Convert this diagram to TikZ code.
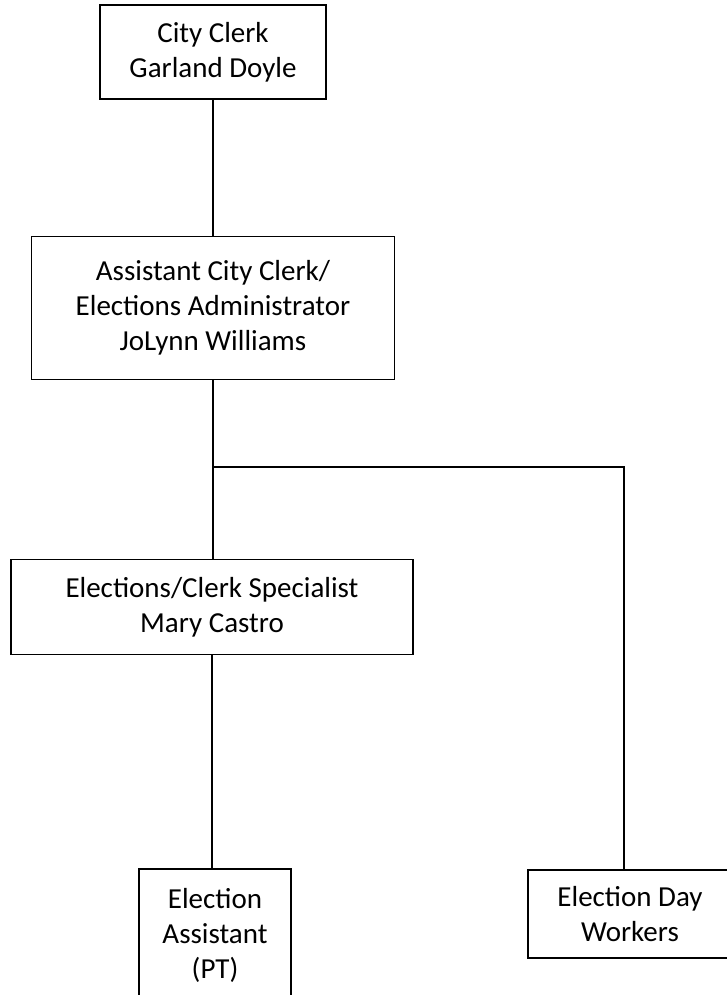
\documentclass[tikz,border=0pt]{standalone}
\usepackage{fontspec}
\setmainfont{Carlito}
\usepackage{xcolor}

\tikzset{
  post/.style={draw, line width=1.5pt, align=center, inner sep=0pt,
    font=\fontsize{29}{35}\selectfont},
  link/.style={line width=1.5pt}
}

\begin{document}
\begin{tikzpicture}[x=1pt, y=-1pt]
        \useasboundingbox (0,0) rectangle (726,995);

        \node[post, minimum width=226, minimum height=94] (clerk) at (213,52) {City Clerk\\Garland Doyle};
        \node[post, minimum width=363, minimum height=143] (asst) at (213,308) {Assistant City Clerk/\\Elections Administrator\\JoLynn Williams};
        \node[post, minimum width=402, minimum height=95] (spec) at (212,607) {Elections/Clerk Specialist\\Mary Castro};
        \node[post, minimum width=152, minimum height=132] (ea) at (215,935) {Election\\Assistant\\(PT)};
        \node[post, minimum width=204, minimum height=88] (edw) at (630,914) {Election Day\\Workers};

        \coordinate (fork) at (213,467);
        \coordinate (drop) at (624,467);

        \draw[link] (clerk.south) -- (clerk.south |- asst.north);
        \draw[link] (asst.south) -- (asst.south |- spec.north);
        \draw[link] (fork) -- (drop) -- (drop |- edw.north);
        \draw[link] (spec.south) -- (spec.south |- ea.north);
    \end{tikzpicture}
\end{document}
